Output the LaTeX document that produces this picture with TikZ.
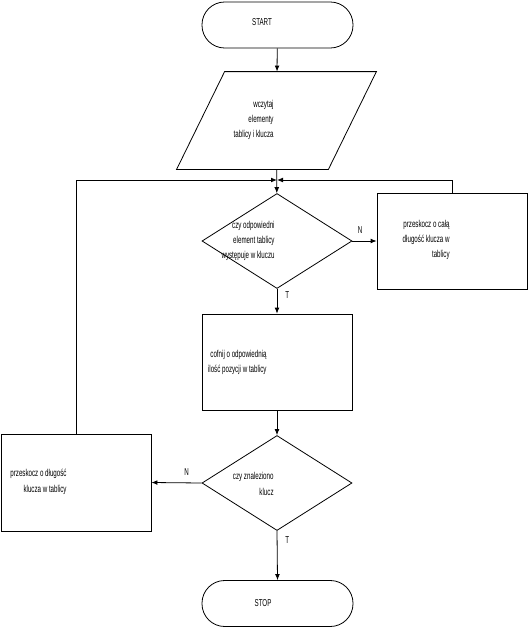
\documentclass[tikz,border=0pt]{standalone}
\usepackage{fontspec}
\setmainfont{Liberation Sans}[FakeStretch=0.62]
\usetikzlibrary{shapes.geometric,arrows.meta}

\begin{document}
\begin{tikzpicture}[x=0.75pt,y=-0.75pt,line width=0.6pt,
  arr/.style={-{Latex[length=4.5pt,width=3.6pt]}},
  txt/.style={font=\fontsize{7.5}{11.5}\selectfont, inner sep=0pt, align=right},
  term/.style={draw, rounded corners=17pt, minimum width=113.25pt, minimum height=34.5pt, inner sep=0pt},
  iobox/.style={minimum width=113.25pt, minimum height=72.75pt, inner sep=0pt},
  proc/.style={draw, minimum width=112.5pt, minimum height=72pt, inner sep=0pt},
  decision/.style={draw, diamond, minimum width=112.5pt, minimum height=71.25pt, inner sep=0pt}]
\useasboundingbox (0,0) rectangle (529,628);

\node[term] (start) at (277.5,25) {};
\node[iobox] (read) at (276.5,120.5) {};
\draw ([xshift=18pt]read.north west) -- ([xshift=18pt]read.north east)
  -- ([xshift=-18pt]read.south east) -- ([xshift=-18pt]read.south west) -- cycle;
\node[decision] (q1) at (277,241) {};
\node[proc] (skip1) at (452,241) {};
\node[proc] (back) at (277,362) {};
\node[decision] (q2) at (277,483) {};
\node[proc, minimum height=72.75pt] (skip2) at (76,482.5) {};
\node[term] (stop) at (277.5,603.5) {};
\coordinate (join) at (277,180);

\node[txt] (starttxt) at (262,22) {START};
\node[txt, anchor=east] (readtxt) at (274,120) {wczytaj\\elementy\\tablicy i klucza};
\node[txt, anchor=east] (q1txt) at (275,241) {czy odpowiedni\\element tablicy\\występuje w kluczu};
\node[txt, anchor=east] (skip1txt) at (450,240) {przeskocz o całą\\długość klucza w\\tablicy};
\node[txt, anchor=east] (backtxt) at (267,362.5) {cofnij o odpowiednią\\ilość pozycji w tablicy};
\node[txt, anchor=east] (q2txt) at (274,484) {czy znaleziono\\klucz};
\node[txt, anchor=east] (skip2txt) at (67,482) {przeskocz o długość\\klucza w tablicy};
\node[txt] (stoptxt) at (263,603) {STOP};

\draw[arr] (start) -- (read);
\draw[arr] (read) -- (q1);
\draw[arr] (skip2.north) |- (join);
\draw[arr] (skip1.north) |- (join);
\draw[arr] (q1.east) -- node[txt, above=5pt, pos=0.32] {N} (skip1.west);
\draw[arr] (q1.south) -- node[txt, right=6pt, pos=0.25] {T} (back.north);
\draw[arr] (back) -- (q2);
\draw[arr] (q2.west) -- node[txt, above=5pt, pos=0.3] {N} (skip2.east);
\draw[arr] (q2.south) -- node[txt, right=6pt, pos=0.18] {T} (stop.north);
\end{tikzpicture}
\end{document}
